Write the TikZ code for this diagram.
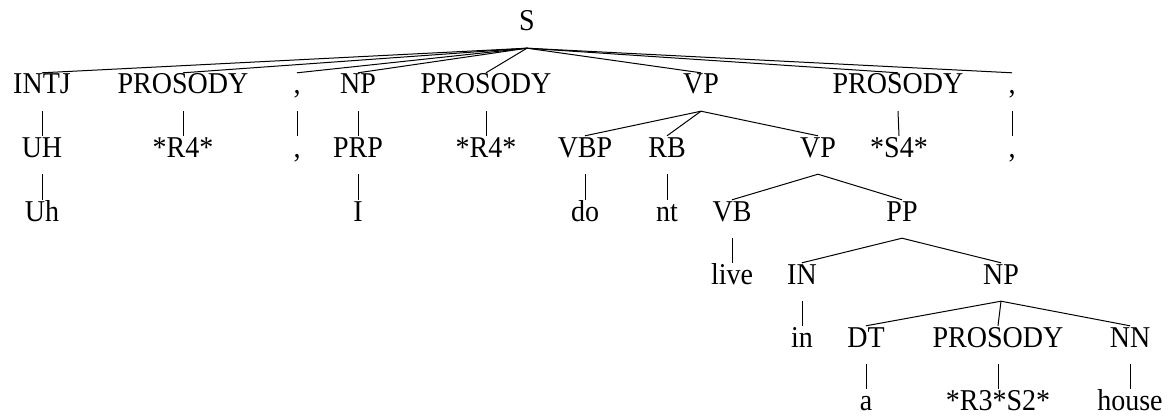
\documentclass[tikz,border=0pt]{standalone}
\usepackage{fontspec}
\setmainfont{Liberation Serif}
\newcommand{\tx}[1]{\scalebox{1}[1.08]{#1}}
\begin{document}
\begin{tikzpicture}[x=1pt,y=1pt,
  lbl/.style={inner sep=0pt, text height=21pt, text depth=17pt, anchor=base, font=\fontsize{28}{30}\selectfont},
  edge/.style={line width=1pt, black}]
\useasboundingbox (0,0) rectangle (1173,-420);
% row 1
\node[lbl] (S) at (527,-31) {\tx{S}};
% row 2
\node[lbl] (intj) at (42,-94) {\tx{INTJ}};
\node[lbl] (pros1) at (183,-94) {\tx{PROSODY}};
\node[lbl] (comma1) at (297,-94) {\tx{,}};
\node[lbl] (np1) at (358,-94) {\tx{NP}};
\node[lbl] (pros2) at (486,-94) {\tx{PROSODY}};
\node[lbl] (vp1) at (701,-94) {\tx{VP}};
\node[lbl] (pros3) at (898,-94) {\tx{PROSODY}};
\node[lbl] (comma2) at (1012,-94) {\tx{,}};
% row 3
\node[lbl] (uh) at (42,-157) {\tx{UH}};
\node[lbl] (r4a) at (183,-157) {\tx{*R4*}};
\node[lbl] (comma1b) at (297,-157) {\tx{,}};
\node[lbl] (prp) at (358,-157) {\tx{PRP}};
\node[lbl] (r4b) at (486,-157) {\tx{*R4*}};
\node[lbl] (vbp) at (585,-157) {\tx{VBP}};
\node[lbl] (rb) at (667,-157) {\tx{RB}};
\node[lbl] (vp2) at (818,-157) {\tx{VP}};
\node[lbl] (s4) at (899,-157) {\tx{*S4*}};
\node[lbl] (comma2b) at (1012,-157) {\tx{,}};
% row 4
\node[lbl] (uhw) at (42,-221) {\tx{Uh}};
\node[lbl] (iw) at (358,-221) {\tx{I}};
\node[lbl] (dow) at (585,-221) {\tx{do}};
\node[lbl] (ntw) at (667,-221) {\tx{nt}};
\node[lbl] (vb) at (732,-221) {\tx{VB}};
\node[lbl] (pp) at (902,-221) {\tx{PP}};
% row 5
\node[lbl] (livew) at (732,-284) {\tx{live}};
\node[lbl] (in) at (802,-284) {\tx{IN}};
\node[lbl] (np2) at (1001,-284) {\tx{NP}};
% row 6
\node[lbl] (inw) at (802,-347) {\tx{in}};
\node[lbl] (dt) at (866,-347) {\tx{DT}};
\node[lbl] (pros4) at (998,-347) {\tx{PROSODY}};
\node[lbl] (nn) at (1130,-347) {\tx{NN}};
% row 7
\node[lbl] (aw) at (866,-410) {\tx{a}};
\node[lbl] (r3s2) at (998,-410) {\tx{*R3*S2*}};
\node[lbl] (housew) at (1130,-410) {\tx{house}};
% edges
\foreach \c in {intj,pros1,comma1,np1,pros2,vp1,pros3,comma2}
  \draw[edge] (S.south) -- (\c.north);
\draw[edge] (intj.south) -- (uh.north);
\draw[edge] (pros1.south) -- (r4a.north);
\draw[edge] (comma1.south) -- (comma1b.north);
\draw[edge] (np1.south) -- (prp.north);
\draw[edge] (pros2.south) -- (r4b.north);
\foreach \c in {vbp,rb,vp2}
  \draw[edge] (vp1.south) -- (\c.north);
\draw[edge] (pros3.south) -- (s4.north);
\draw[edge] (comma2.south) -- (comma2b.north);
\draw[edge] (uh.south) -- (uhw.north);
\draw[edge] (prp.south) -- (iw.north);
\draw[edge] (vbp.south) -- (dow.north);
\draw[edge] (rb.south) -- (ntw.north);
\draw[edge] (vp2.south) -- (vb.north);
\draw[edge] (vp2.south) -- (pp.north);
\draw[edge] (vb.south) -- (livew.north);
\draw[edge] (pp.south) -- (in.north);
\draw[edge] (pp.south) -- (np2.north);
\draw[edge] (in.south) -- (inw.north);
\foreach \c in {dt,pros4,nn}
  \draw[edge] (np2.south) -- (\c.north);
\draw[edge] (dt.south) -- (aw.north);
\draw[edge] (pros4.south) -- (r3s2.north);
\draw[edge] (nn.south) -- (housew.north);
\end{tikzpicture}
\end{document}
